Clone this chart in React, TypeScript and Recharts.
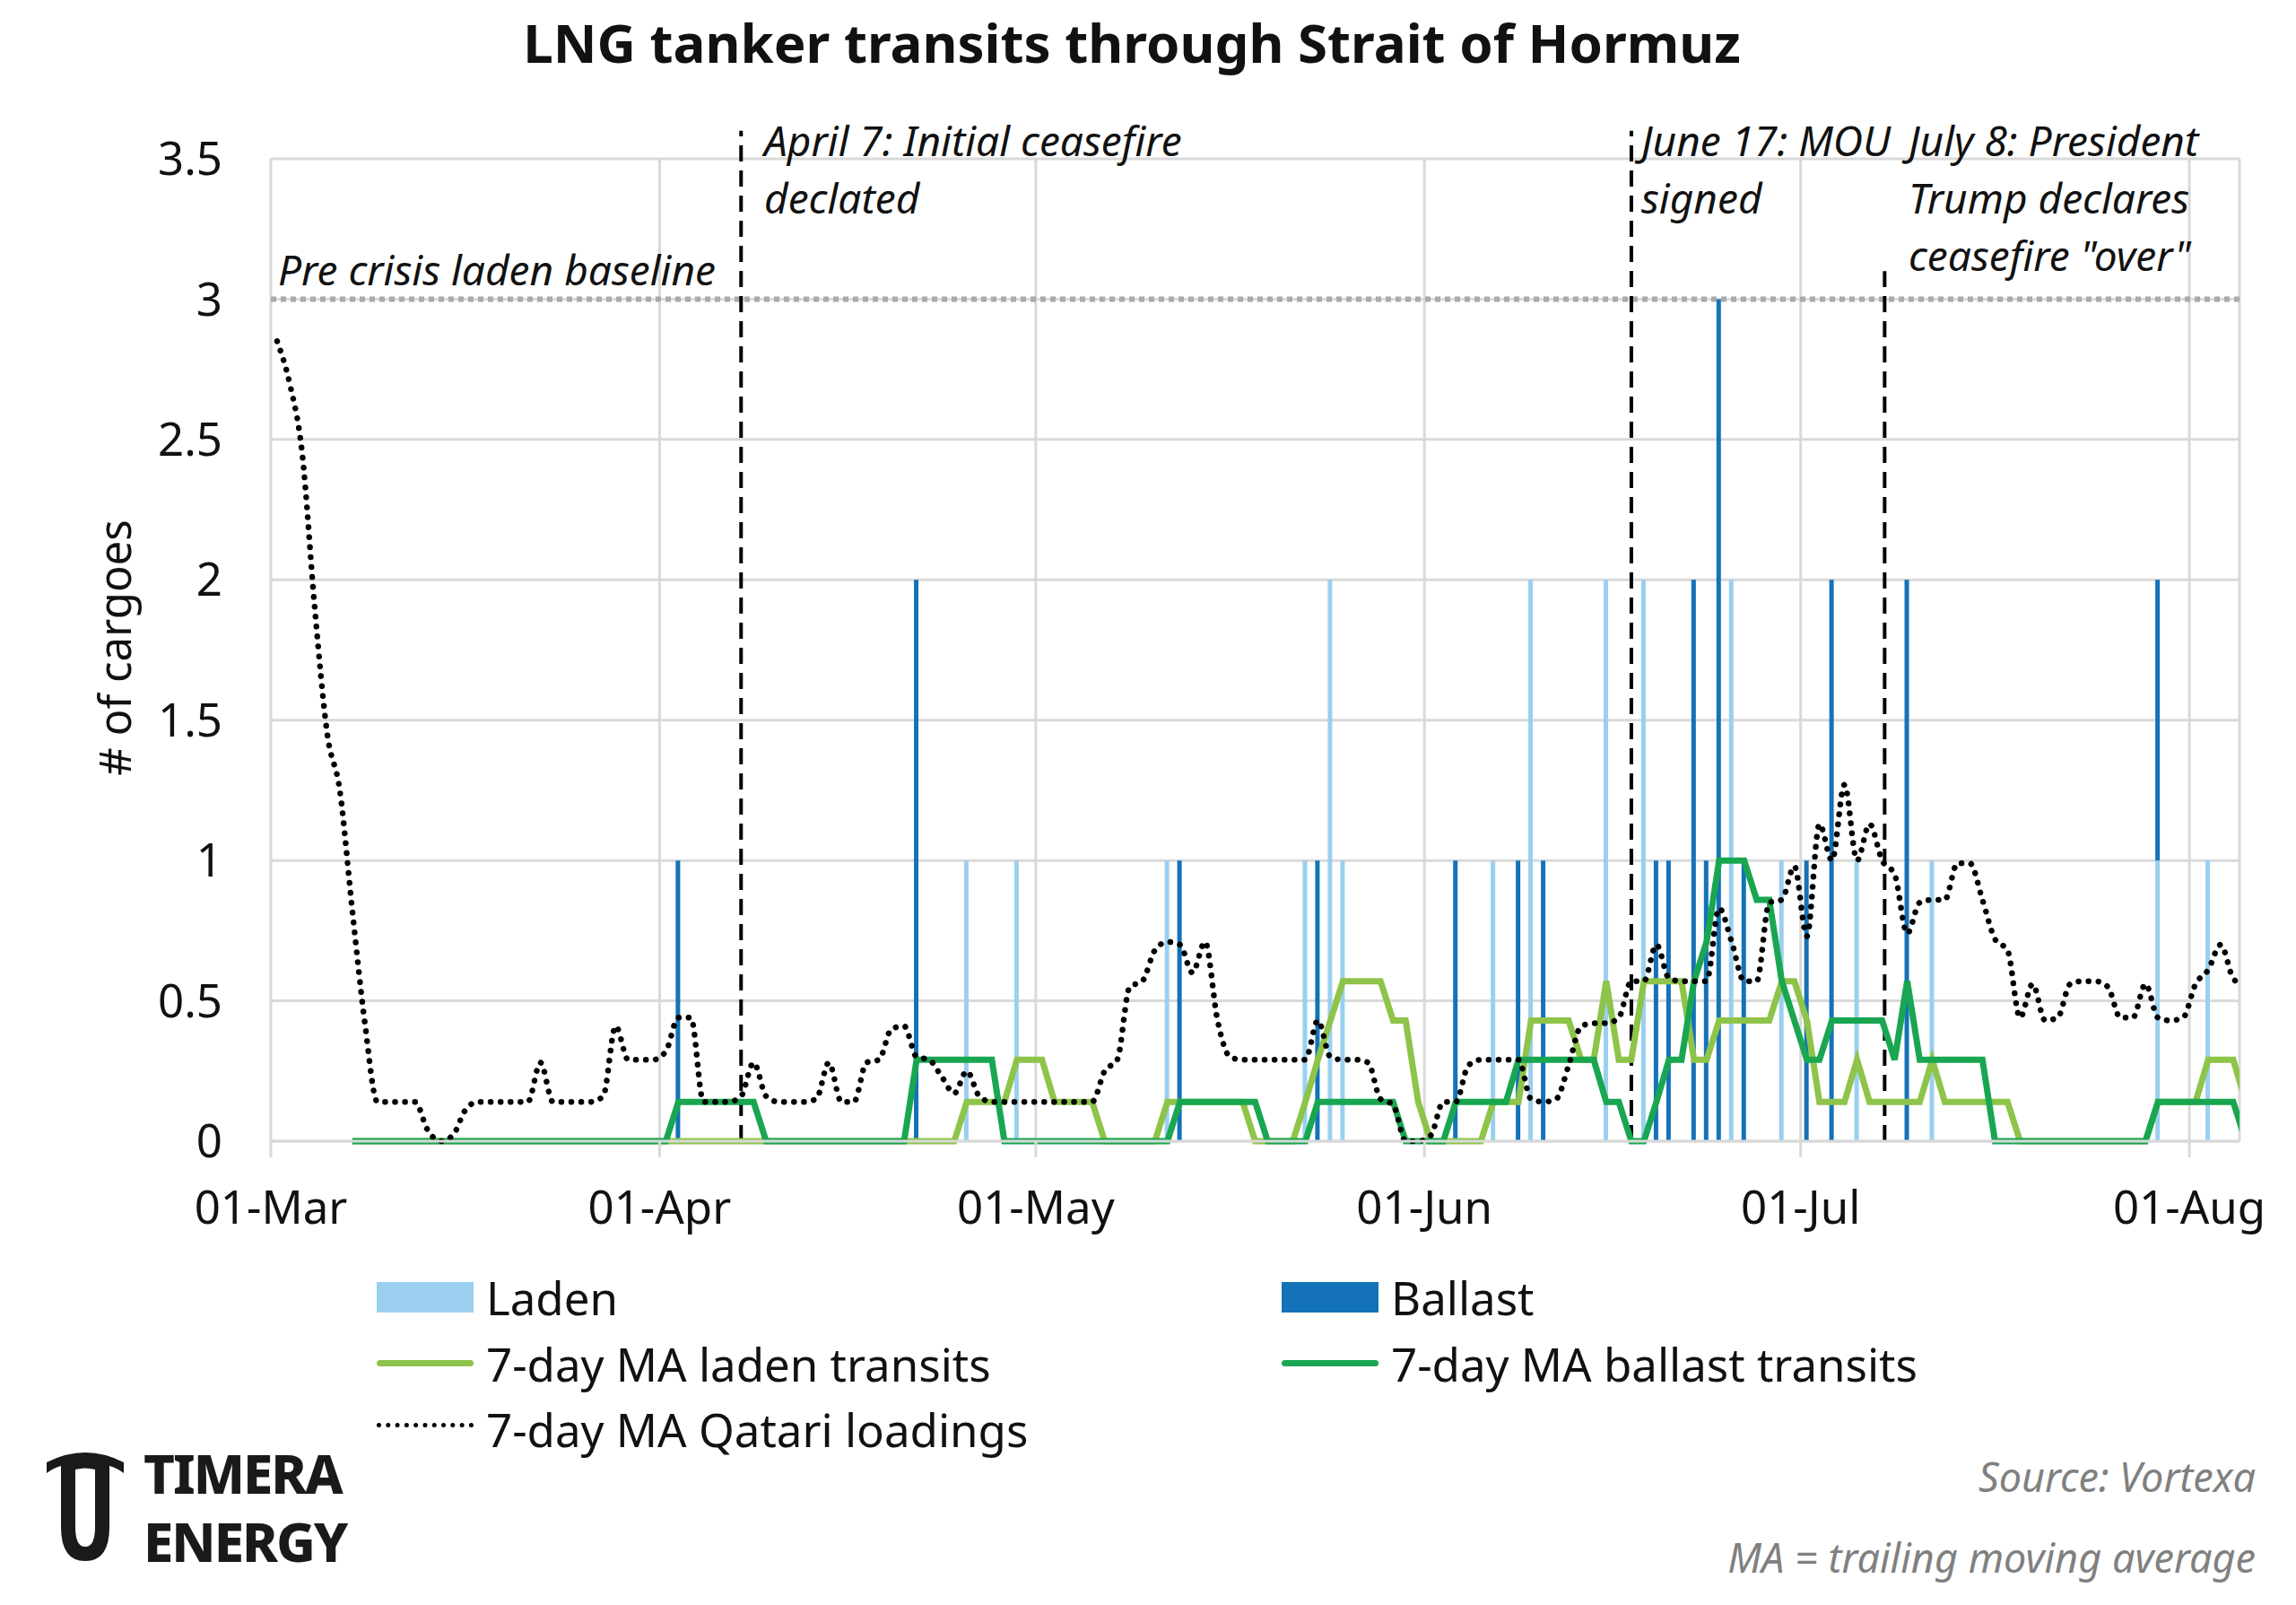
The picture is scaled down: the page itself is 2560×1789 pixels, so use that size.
import React from "react";
import {
  ComposedChart,
  Bar,
  Line,
  XAxis,
  YAxis,
  CartesianGrid,
  ReferenceLine,
} from "recharts";

// day index 0 = 01-Mar
const monthTicks = [-0.5, 30.5, 60.5, 91.5, 121.5, 152.5];
const monthLabels = ["01-Mar", "01-Apr", "01-May", "01-Jun", "01-Jul", "01-Aug"];
const weekTicks = [-0.5, 6.5, 13.5, 20.5, 27.5, 34.5, 41.5, 48.5, 55.5, 62.5, 69.5, 76.5, 83.5, 90.5, 97.5, 104.5, 111.5, 118.5, 125.5, 132.5, 139.5, 146.5, 153.5];

const ladenDays = [55, 59, 71, 82, 84, 85, 97, 100, 106, 109, 116, 120, 126, 132, 150, 154];
const ladenCounts = [1, 1, 1, 1, 2, 1, 1, 2, 2, 2, 2, 1, 1, 1, 1, 1];
const ballastDays = [32, 51, 72, 83, 94, 99, 101, 110, 111, 113, 114, 115, 117, 122, 124, 130, 150];
const ballastCounts = [1, 2, 1, 1, 1, 1, 1, 1, 1, 2, 1, 3, 1, 1, 2, 2, 1];

const qatariMA = [
  2.85, 2.7, 2.45, 1.9, 1.45, 1.25, 0.82, 0.42, 0.14, 0.14,
  0.14, 0.14, 0.04, 0, 0.02, 0.11, 0.14, 0.14, 0.14, 0.14,
  0.14, 0.28, 0.14, 0.14, 0.14, 0.14, 0.16, 0.41, 0.29, 0.29,
  0.29, 0.32, 0.44, 0.44, 0.14, 0.14, 0.14, 0.16, 0.28, 0.16,
  0.14, 0.14, 0.14, 0.15, 0.28, 0.14, 0.14, 0.28, 0.29, 0.4,
  0.41, 0.3, 0.29, 0.23, 0.17, 0.25, 0.16, 0.14, 0.14, 0.14,
  0.14, 0.14, 0.14, 0.14, 0.14, 0.14, 0.25, 0.29, 0.55, 0.57,
  0.68, 0.71, 0.7, 0.6, 0.71, 0.43, 0.3, 0.29, 0.29, 0.29,
  0.29, 0.29, 0.29, 0.43, 0.3, 0.29, 0.29, 0.28, 0.15, 0.13,
  0, 0, 0.02, 0.14, 0.14, 0.27, 0.29, 0.29, 0.29, 0.29,
  0.15, 0.14, 0.15, 0.27, 0.41, 0.42, 0.42, 0.44, 0.57, 0.57,
  0.7, 0.58, 0.57, 0.57, 0.57, 0.83, 0.71, 0.57, 0.57, 0.85,
  0.86, 0.98, 0.73, 1.13, 1.0, 1.27, 1.0, 1.13, 1.0, 0.95,
  0.74, 0.85, 0.86, 0.86, 0.99, 0.99, 0.86, 0.72, 0.68, 0.44,
  0.56, 0.43, 0.44, 0.56, 0.57, 0.57, 0.55, 0.44, 0.44, 0.56,
  0.44, 0.43, 0.44, 0.56, 0.61, 0.7, 0.58, 0.55,
];

const ladenMA = [
  null, null, null, null, null, null, 0, 0, 0, 0,
  0, 0, 0, 0, 0, 0, 0, 0, 0, 0,
  0, 0, 0, 0, 0, 0, 0, 0, 0, 0,
  0, 0, 0, 0, 0, 0, 0, 0, 0, 0,
  0, 0, 0, 0, 0, 0, 0, 0, 0, 0,
  0, 0, 0, 0, 0, 0.14, 0.14, 0.14, 0.14, 0.29,
  0.29, 0.29, 0.14, 0.14, 0.14, 0.14, 0, 0, 0, 0,
  0, 0.14, 0.14, 0.14, 0.14, 0.14, 0.14, 0.14, 0, 0,
  0, 0, 0.14, 0.29, 0.43, 0.57, 0.57, 0.57, 0.57, 0.43,
  0.43, 0.14, 0, 0, 0, 0, 0, 0.14, 0.14, 0.14,
  0.43, 0.43, 0.43, 0.43, 0.29, 0.29, 0.57, 0.29, 0.29, 0.57,
  0.57, 0.57, 0.57, 0.29, 0.29, 0.43, 0.43, 0.43, 0.43, 0.43,
  0.57, 0.57, 0.43, 0.14, 0.14, 0.14, 0.29, 0.14, 0.14, 0.14,
  0.14, 0.14, 0.29, 0.14, 0.14, 0.14, 0.14, 0.14, 0.14, 0,
  0, 0, 0, 0, 0, 0, 0, 0, 0, 0,
  0.14, 0.14, 0.14, 0.14, 0.29, 0.29, 0.29, 0.14,
];

const ballastMA = [
  null, null, null, null, null, null, 0, 0, 0, 0,
  0, 0, 0, 0, 0, 0, 0, 0, 0, 0,
  0, 0, 0, 0, 0, 0, 0, 0, 0, 0,
  0, 0, 0.14, 0.14, 0.14, 0.14, 0.14, 0.14, 0.14, 0,
  0, 0, 0, 0, 0, 0, 0, 0, 0, 0,
  0, 0.29, 0.29, 0.29, 0.29, 0.29, 0.29, 0.29, 0, 0,
  0, 0, 0, 0, 0, 0, 0, 0, 0, 0,
  0, 0, 0.14, 0.14, 0.14, 0.14, 0.14, 0.14, 0.14, 0,
  0, 0, 0, 0.14, 0.14, 0.14, 0.14, 0.14, 0.14, 0.14,
  0, 0, 0, 0, 0.14, 0.14, 0.14, 0.14, 0.14, 0.29,
  0.29, 0.29, 0.29, 0.29, 0.29, 0.29, 0.14, 0.14, 0, 0,
  0.14, 0.29, 0.29, 0.57, 0.71, 1, 1, 1, 0.86, 0.86,
  0.57, 0.43, 0.29, 0.29, 0.43, 0.43, 0.43, 0.43, 0.43, 0.29,
  0.57, 0.29, 0.29, 0.29, 0.29, 0.29, 0.29, 0, 0, 0,
  0, 0, 0, 0, 0, 0, 0, 0, 0, 0,
  0.14, 0.14, 0.14, 0.14, 0.14, 0.14, 0.14, 0,
];

const data = qatariMA.map((q, day) => {
  const li = ladenDays.indexOf(day);
  const bi = ballastDays.indexOf(day);
  return {
    day,
    laden: li >= 0 ? ladenCounts[li] : 0,
    ballast: bi >= 0 ? ballastCounts[bi] : 0,
    ladenMA: ladenMA[day],
    ballastMA: ballastMA[day],
    qatari: q,
  };
});

const FONT = "'Noto Sans', 'Open Sans', sans-serif";
const LIGHT = "#9ACFF0";
const DARK = "#1472B8";
const LGREEN = "#8DC449";
const DGREEN = "#19A651";

const abs = (x: number, y: number, extra: React.CSSProperties = {}): React.CSSProperties => ({
  position: "absolute",
  left: x,
  top: y,
  fontFamily: FONT,
  whiteSpace: "nowrap",
  ...extra,
});

const note: React.CSSProperties = { fontSize: 46, fontStyle: "italic", lineHeight: "64px", color: "#111" };
const legendText: React.CSSProperties = { fontSize: 51, color: "#111", lineHeight: "68px" };
const logoText: React.CSSProperties = { fontSize: 60, fontWeight: 800, lineHeight: "60px", color: "#1a1a1a", letterSpacing: -2 };

const App: React.FC = () => {
  return (
    <div style={{ position: "relative", width: 2560, height: 1789, margin: -8, background: "#fff", overflow: "hidden" }}>
      <ComposedChart
        width={2560}
        height={1789}
        data={data}
        margin={{ top: 177, right: 63, left: 0, bottom: 407 }}
        barGap={0}
      >
        <CartesianGrid stroke="#d9d9d9" strokeWidth={3} />
        <XAxis
          xAxisId="minor"
          type="number"
          dataKey="day"
          domain={[-0.5, 156.5]}
          ticks={weekTicks}
          tick={false}
          tickSize={14}
          height={0}
          axisLine={false}
          tickLine={{ stroke: "#d9d9d9", strokeWidth: 3 }}
          allowDataOverflow
        />
        <XAxis
          type="number"
          dataKey="day"
          domain={[-0.5, 156.5]}
          ticks={monthTicks}
          tickFormatter={(v: number) => monthLabels[monthTicks.indexOf(v)]}
          tick={{ fontSize: 51, fill: "#111", fontFamily: FONT }}
          tickSize={18}
          tickMargin={38}
          height={110}
          axisLine={{ stroke: "#d9d9d9", strokeWidth: 3 }}
          tickLine={{ stroke: "#d9d9d9", strokeWidth: 3 }}
          allowDataOverflow
        />
        <YAxis
          domain={[0, 3.5]}
          ticks={[0, 0.5, 1, 1.5, 2, 2.5, 3, 3.5]}
          width={302}
          axisLine={false}
          tickLine={false}
          tickSize={0}
          tickMargin={54}
          tick={{ fontSize: 51, fill: "#111", fontFamily: FONT }}
        />
        <Bar dataKey="laden" stackId="a" fill={LIGHT} barSize={5} isAnimationActive={false} />
        <Bar dataKey="ballast" stackId="a" fill={DARK} barSize={5} isAnimationActive={false} />
        <ReferenceLine y={3} stroke="#aaaaaa" strokeWidth={6} strokeDasharray="6 5" />
        <ReferenceLine
          segment={[{ x: 37, y: 0 }, { x: 37, y: 3.6 }]}
          stroke="#000"
          strokeWidth={4}
          strokeDasharray="18 10"
          ifOverflow="visible"
        />
        <ReferenceLine
          segment={[{ x: 108, y: 0 }, { x: 108, y: 3.6 }]}
          stroke="#000"
          strokeWidth={4}
          strokeDasharray="18 10"
          ifOverflow="visible"
        />
        <ReferenceLine
          segment={[{ x: 128.2, y: 0 }, { x: 128.2, y: 3.1 }]}
          stroke="#000"
          strokeWidth={4}
          strokeDasharray="18 10"
          ifOverflow="visible"
        />
        <Line type="linear" dataKey="ladenMA" stroke={LGREEN} strokeWidth={7} dot={false} isAnimationActive={false} />
        <Line type="linear" dataKey="ballastMA" stroke={DGREEN} strokeWidth={7} dot={false} isAnimationActive={false} />
        <Line
          type="monotone"
          dataKey="qatari"
          stroke="#000"
          strokeWidth={6.5}
          strokeDasharray="0.1 11"
          strokeLinecap="round"
          dot={false}
          isAnimationActive={false}
        />
      </ComposedChart>

      <div style={abs(1262, 6, { fontSize: 60, fontWeight: 700, transform: "translateX(-50%)", color: "#111" })}>
        LNG tanker transits through Strait of Hormuz
      </div>
      <div
        style={abs(94, 722, {
          fontSize: 49,
          color: "#111",
          writingMode: "vertical-rl",
          transform: "translateY(-50%) rotate(180deg)",
        })}
      >
        # of cargoes
      </div>

      <div style={abs(310, 268, note)}>Pre crisis laden baseline</div>
      <div style={abs(852, 124, note)}>
        April 7: Initial ceasefire
        <br />
        declated
      </div>
      <div style={abs(1830, 124, note)}>
        June 17: MOU
        <br />
        signed
      </div>
      <div style={abs(2128, 124, note)}>
        July 8: President
        <br />
        Trump declares
        <br />
        ceasefire "over"
      </div>

      {/* legend */}
      <div style={abs(420, 1429, { width: 108, height: 34, background: LIGHT })} />
      <div style={abs(542, 1412, legendText)}>Laden</div>
      <div style={abs(1429, 1429, { width: 108, height: 34, background: DARK })} />
      <div style={abs(1551, 1412, legendText)}>Ballast</div>
      <div style={abs(420, 1516, { width: 108, height: 7, background: LGREEN, borderRadius: 4 })} />
      <div style={abs(542, 1486, legendText)}>7-day MA laden transits</div>
      <div style={abs(1429, 1516, { width: 108, height: 7, background: DGREEN, borderRadius: 4 })} />
      <div style={abs(1551, 1486, legendText)}>7-day MA ballast transits</div>
      <div style={abs(420, 1586, { width: 108, height: 0, borderTop: "5px dotted #000" })} />
      <div style={abs(542, 1559, legendText)}>7-day MA Qatari loadings</div>

      <div style={abs(2515, 1615, { fontSize: 45, fontStyle: "italic", color: "#808080", transform: "translateX(-100%)" })}>
        Source: Vortexa
      </div>
      <div style={abs(2515, 1705, { fontSize: 45, fontStyle: "italic", color: "#808080", transform: "translateX(-100%)" })}>
        MA = trailing moving average
      </div>

      {/* logo */}
      <svg style={{ position: "absolute", left: 40, top: 1612 }} width={110} height={140}>
        <path
          d="M12 18 Q55 -4 98 18 L98 30 Q90 24 82 22 L82 90 Q82 128 55 128 Q28 128 28 90 L28 22 Q20 24 12 30 Z M44 26 L44 90 Q44 112 55 112 Q66 112 66 90 L66 26 Q55 23 44 26 Z"
          fill="#1a1a1a"
          fillRule="evenodd"
        />
      </svg>
      <div style={abs(160, 1612, logoText)}>TIMERA</div>
      <div style={abs(160, 1688, logoText)}>ENERGY</div>
    </div>
  );
};

export default App;
